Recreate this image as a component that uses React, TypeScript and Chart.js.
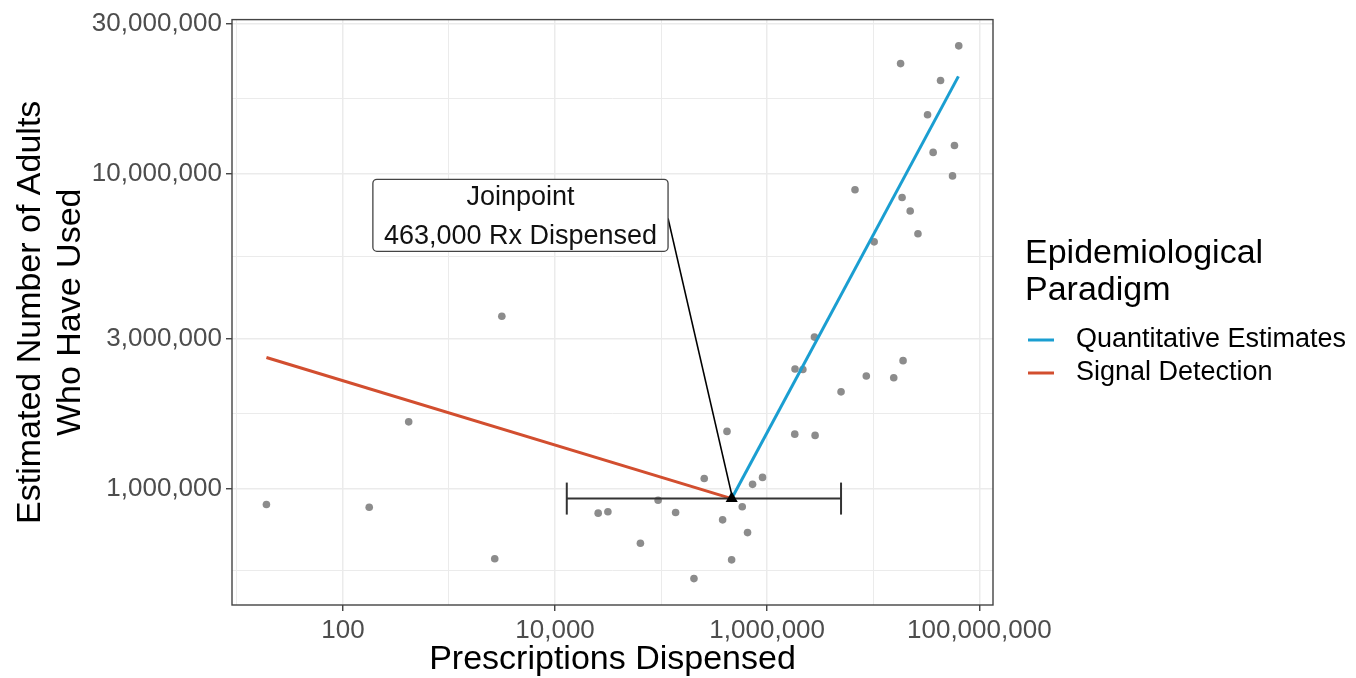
import React, { useEffect, useRef } from 'react';
import { Chart, registerables } from 'chart.js';

Chart.register(...registerables);

const FONT_FAMILY = '"Liberation Sans", Arial, Helvetica, sans-serif';

// Observed drugs: prescriptions dispensed vs estimated adults who have used
const RX_DISPENSED = [
  19, 177, 417, 2700, 3150, 25500, 31500, 63800, 93700, 137000,
  204000, 255000, 380000, 418000, 462000, 582000, 653000, 728000, 904000, 1820000,
  2830000, 4970000, 1830000, 2170000, 2790000, 6730000, 8600000, 10200000, 15600000, 19100000,
  18700000, 22300000, 26400000, 18100000, 32500000, 36700000, 43100000, 58300000, 55900000, 64000000,
];
const ADULTS_USED = [
  891000, 873000, 1630000, 599000, 3530000, 836000, 845000, 671000, 919000, 840000,
  518000, 1077000, 796000, 1520000, 594000, 876000, 725000, 1032000, 1086000, 1490000,
  1476000, 2030000, 2400000, 2390000, 3030000, 8900000, 2280000, 6080000, 2250000, 2550000,
  8410000, 7620000, 6450000, 22400000, 15400000, 11700000, 19800000, 12300000, 9850000, 25500000,
];

// Fitted joinpoint segments
const SIGNAL_X = [19, 463000];
const SIGNAL_Y = [2610000, 930000];
const QUANT_X = [463000, 63500000];
const QUANT_Y = [930000, 20400000];

// Joinpoint and its confidence interval
const JOIN_X = [463000];
const JOIN_Y = [930000];
const CI_X = [12900, 4970000];
const CI_Y = [930000, 930000];

// Axes
const X_BREAKS = [100, 10000, 1000000, 100000000];
const X_MINOR = [10, 1000, 100000, 10000000];
const Y_BREAKS = [1000000, 3000000, 10000000, 30000000];
const Y_MINOR = [547723, 1732051, 5477226, 17320508];
const X_LIMITS = [9, 134600000];
const Y_LIMITS = [427000, 30900000];

const X_TITLE = 'Prescriptions Dispensed';
const Y_TITLE = ['Estimated Number of Adults', 'Who Have Used'];
const LEGEND_TITLE = ['Epidemiological', 'Paradigm'];
const SERIES_NAMES = ['Quantitative Estimates', 'Signal Detection'];
const LABEL_LINES = ['Joinpoint', '463,000 Rx Dispensed'];
const LABEL_AT = [4720, 7330000];

const BLUE = '#1A9ED1';
const RED = '#D24E2F';
const POINT_GREY = '#8C8C8C';
const GRID = '#EBEBEB';
const AXIS_TEXT = '#4D4D4D';

const zip = (xs: number[], ys: number[]) => xs.map((v, i) => ({ x: v, y: ys[i] }));
const fmt = (v: number) => Math.round(v).toLocaleString('en-US');

const overlayPlugin = {
  id: 'overlay',
  afterDatasetsDraw(chart: any) {
    const { ctx, chartArea } = chart;
    const xs = chart.scales.x;
    const ys = chart.scales.y;
    ctx.save();

    // error bar caps
    const cy = ys.getPixelForValue(CI_Y[0]);
    ctx.strokeStyle = '#333333';
    ctx.lineWidth = 2;
    CI_X.forEach((v) => {
      const px = xs.getPixelForValue(v);
      ctx.beginPath();
      ctx.moveTo(px, cy - 16);
      ctx.lineTo(px, cy + 16);
      ctx.stroke();
    });

    // annotation label + segment
    const jx = xs.getPixelForValue(JOIN_X[0]);
    const jy = ys.getPixelForValue(JOIN_Y[0]);
    const lx = xs.getPixelForValue(LABEL_AT[0]);
    const ly = ys.getPixelForValue(LABEL_AT[1]);
    ctx.font = `27px ${FONT_FAMILY}`;
    const tw = Math.max(...LABEL_LINES.map((t) => ctx.measureText(t).width));
    const w = tw + 22;
    const h = 72;
    const left = lx - w / 2;
    const top = ly - h / 2 - 1;
    ctx.strokeStyle = '#000';
    ctx.lineWidth = 1.6;
    ctx.beginPath();
    ctx.moveTo(left + w, ly + 2);
    ctx.lineTo(jx, jy - 4);
    ctx.stroke();

    ctx.beginPath();
    ctx.roundRect(left, top, w, h, 4);
    ctx.fillStyle = '#fff';
    ctx.fill();
    ctx.strokeStyle = '#444';
    ctx.lineWidth = 1.3;
    ctx.stroke();
    ctx.fillStyle = '#111';
    ctx.textAlign = 'center';
    ctx.textBaseline = 'middle';
    ctx.fillText(LABEL_LINES[0], lx, ly - 19);
    ctx.fillText(LABEL_LINES[1], lx, ly + 20);

    // panel border
    ctx.strokeStyle = '#444';
    ctx.lineWidth = 1.4;
    ctx.strokeRect(chartArea.left, chartArea.top, chartArea.right - chartArea.left, chartArea.bottom - chartArea.top);
    ctx.restore();
  },
  afterDraw(chart: any) {
    const { ctx } = chart;
    ctx.save();
    ctx.fillStyle = '#000';
    ctx.textAlign = 'left';
    ctx.textBaseline = 'middle';
    ctx.font = `34px ${FONT_FAMILY}`;
    ctx.fillText(LEGEND_TITLE[0], 1025, 254);
    ctx.fillText(LEGEND_TITLE[1], 1025, 291);
    const colors = [BLUE, RED];
    SERIES_NAMES.forEach((name, i) => {
      const yy = 340 + i * 33;
      ctx.strokeStyle = colors[i];
      ctx.lineWidth = 3;
      ctx.beginPath();
      ctx.moveTo(1028, yy);
      ctx.lineTo(1054, yy);
      ctx.stroke();
      ctx.font = `27px ${FONT_FAMILY}`;
      ctx.fillStyle = '#000';
      ctx.fillText(name, 1076, yy);
    });
    ctx.restore();
  },
};

export default function App() {
  const ref = useRef<HTMLCanvasElement>(null);

  useEffect(() => {
    const xTicks = [...X_MINOR, ...X_BREAKS].sort((a, b) => a - b);
    const yTicks = [...Y_MINOR, ...Y_BREAKS].sort((a, b) => a - b);
    const isXMajor = (v: number) => X_BREAKS.includes(v);
    const isYMajor = (v: number) => Y_BREAKS.includes(v);

    const chart = new Chart(ref.current as HTMLCanvasElement, {
      type: 'scatter',
      data: {
        datasets: [
          {
            label: 'Drugs',
            data: zip(RX_DISPENSED, ADULTS_USED),
            backgroundColor: POINT_GREY,
            borderWidth: 0,
            pointRadius: 3.8,
            order: 5,
          },
          {
            label: SERIES_NAMES[1],
            data: zip(SIGNAL_X, SIGNAL_Y),
            showLine: true,
            borderColor: RED,
            borderWidth: 3,
            pointRadius: 0,
            order: 4,
          },
          {
            label: SERIES_NAMES[0],
            data: zip(QUANT_X, QUANT_Y),
            showLine: true,
            borderColor: BLUE,
            borderWidth: 3,
            pointRadius: 0,
            order: 3,
          },
          {
            label: 'CI',
            data: zip(CI_X, CI_Y),
            showLine: true,
            borderColor: '#333333',
            borderWidth: 2,
            pointRadius: 0,
            order: 2,
          },
          {
            label: 'Joinpoint',
            data: zip(JOIN_X, JOIN_Y),
            pointStyle: 'triangle',
            pointRadius: 7,
            backgroundColor: '#000',
            borderColor: '#000',
            borderWidth: 0,
            order: 1,
          },
        ],
      } as any,
      options: {
        responsive: false,
        animation: false,
        devicePixelRatio: 1,
        events: [],
        layout: { padding: { left: 0, top: 17, right: 363, bottom: 0 } },
        plugins: {
          legend: { display: false },
          tooltip: { enabled: false },
        },
        scales: {
          x: {
            type: 'logarithmic',
            min: X_LIMITS[0],
            max: X_LIMITS[1],
            afterBuildTicks: (scale: any) => {
              scale.ticks = xTicks.map((v) => ({ value: v, major: isXMajor(v) }));
            },
            afterFit: (scale: any) => {
              scale.height = 73;
            },
            ticks: {
              autoSkip: false,
              maxRotation: 0,
              padding: 4,
              color: AXIS_TEXT,
              font: { family: FONT_FAMILY, size: 26 },
              callback: (v: any) => (isXMajor(Number(v)) ? fmt(Number(v)) : ''),
            },
            grid: {
              color: GRID,
              lineWidth: (c: any) => (isXMajor(c.tick?.value) ? 1.5 : 1.0),
              tickColor: (c: any) => (isXMajor(c.tick?.value) ? '#333' : 'rgba(0,0,0,0)'),
              tickWidth: 1.3,
              tickLength: 6,
              drawTicks: true,
            },
            border: { display: false },
            title: {
              display: true,
              text: X_TITLE,
              color: '#000',
              font: { family: FONT_FAMILY, size: 34, lineHeight: 1.1 },
              padding: { top: 0, bottom: 0 },
            },
          },
          y: {
            type: 'logarithmic',
            min: Y_LIMITS[0],
            max: Y_LIMITS[1],
            afterBuildTicks: (scale: any) => {
              scale.ticks = yTicks.map((v) => ({ value: v, major: isYMajor(v) }));
            },
            afterFit: (scale: any) => {
              scale.width = 232;
            },
            ticks: {
              autoSkip: false,
              padding: 4,
              color: AXIS_TEXT,
              font: { family: FONT_FAMILY, size: 26 },
              callback: (v: any) => (isYMajor(Number(v)) ? fmt(Number(v)) : ''),
            },
            grid: {
              color: GRID,
              lineWidth: (c: any) => (isYMajor(c.tick?.value) ? 1.5 : 1.0),
              tickColor: (c: any) => (isYMajor(c.tick?.value) ? '#333' : 'rgba(0,0,0,0)'),
              tickWidth: 1.3,
              tickLength: 6,
              drawTicks: true,
            },
            border: { display: false },
            title: {
              display: true,
              text: Y_TITLE,
              color: '#000',
              font: { family: FONT_FAMILY, size: 34, lineHeight: 1.16 },
              padding: { top: 11, bottom: 0 },
            },
          },
        },
      } as any,
      plugins: [overlayPlugin],
    });
    return () => chart.destroy();
  }, []);

  return (
    <div style={{ position: 'fixed', left: 0, top: 0, width: 1356, height: 678, background: '#fff' }}>
      <canvas ref={ref} width={1356} height={678} style={{ display: 'block', width: 1356, height: 678 }} />
    </div>
  );
}
